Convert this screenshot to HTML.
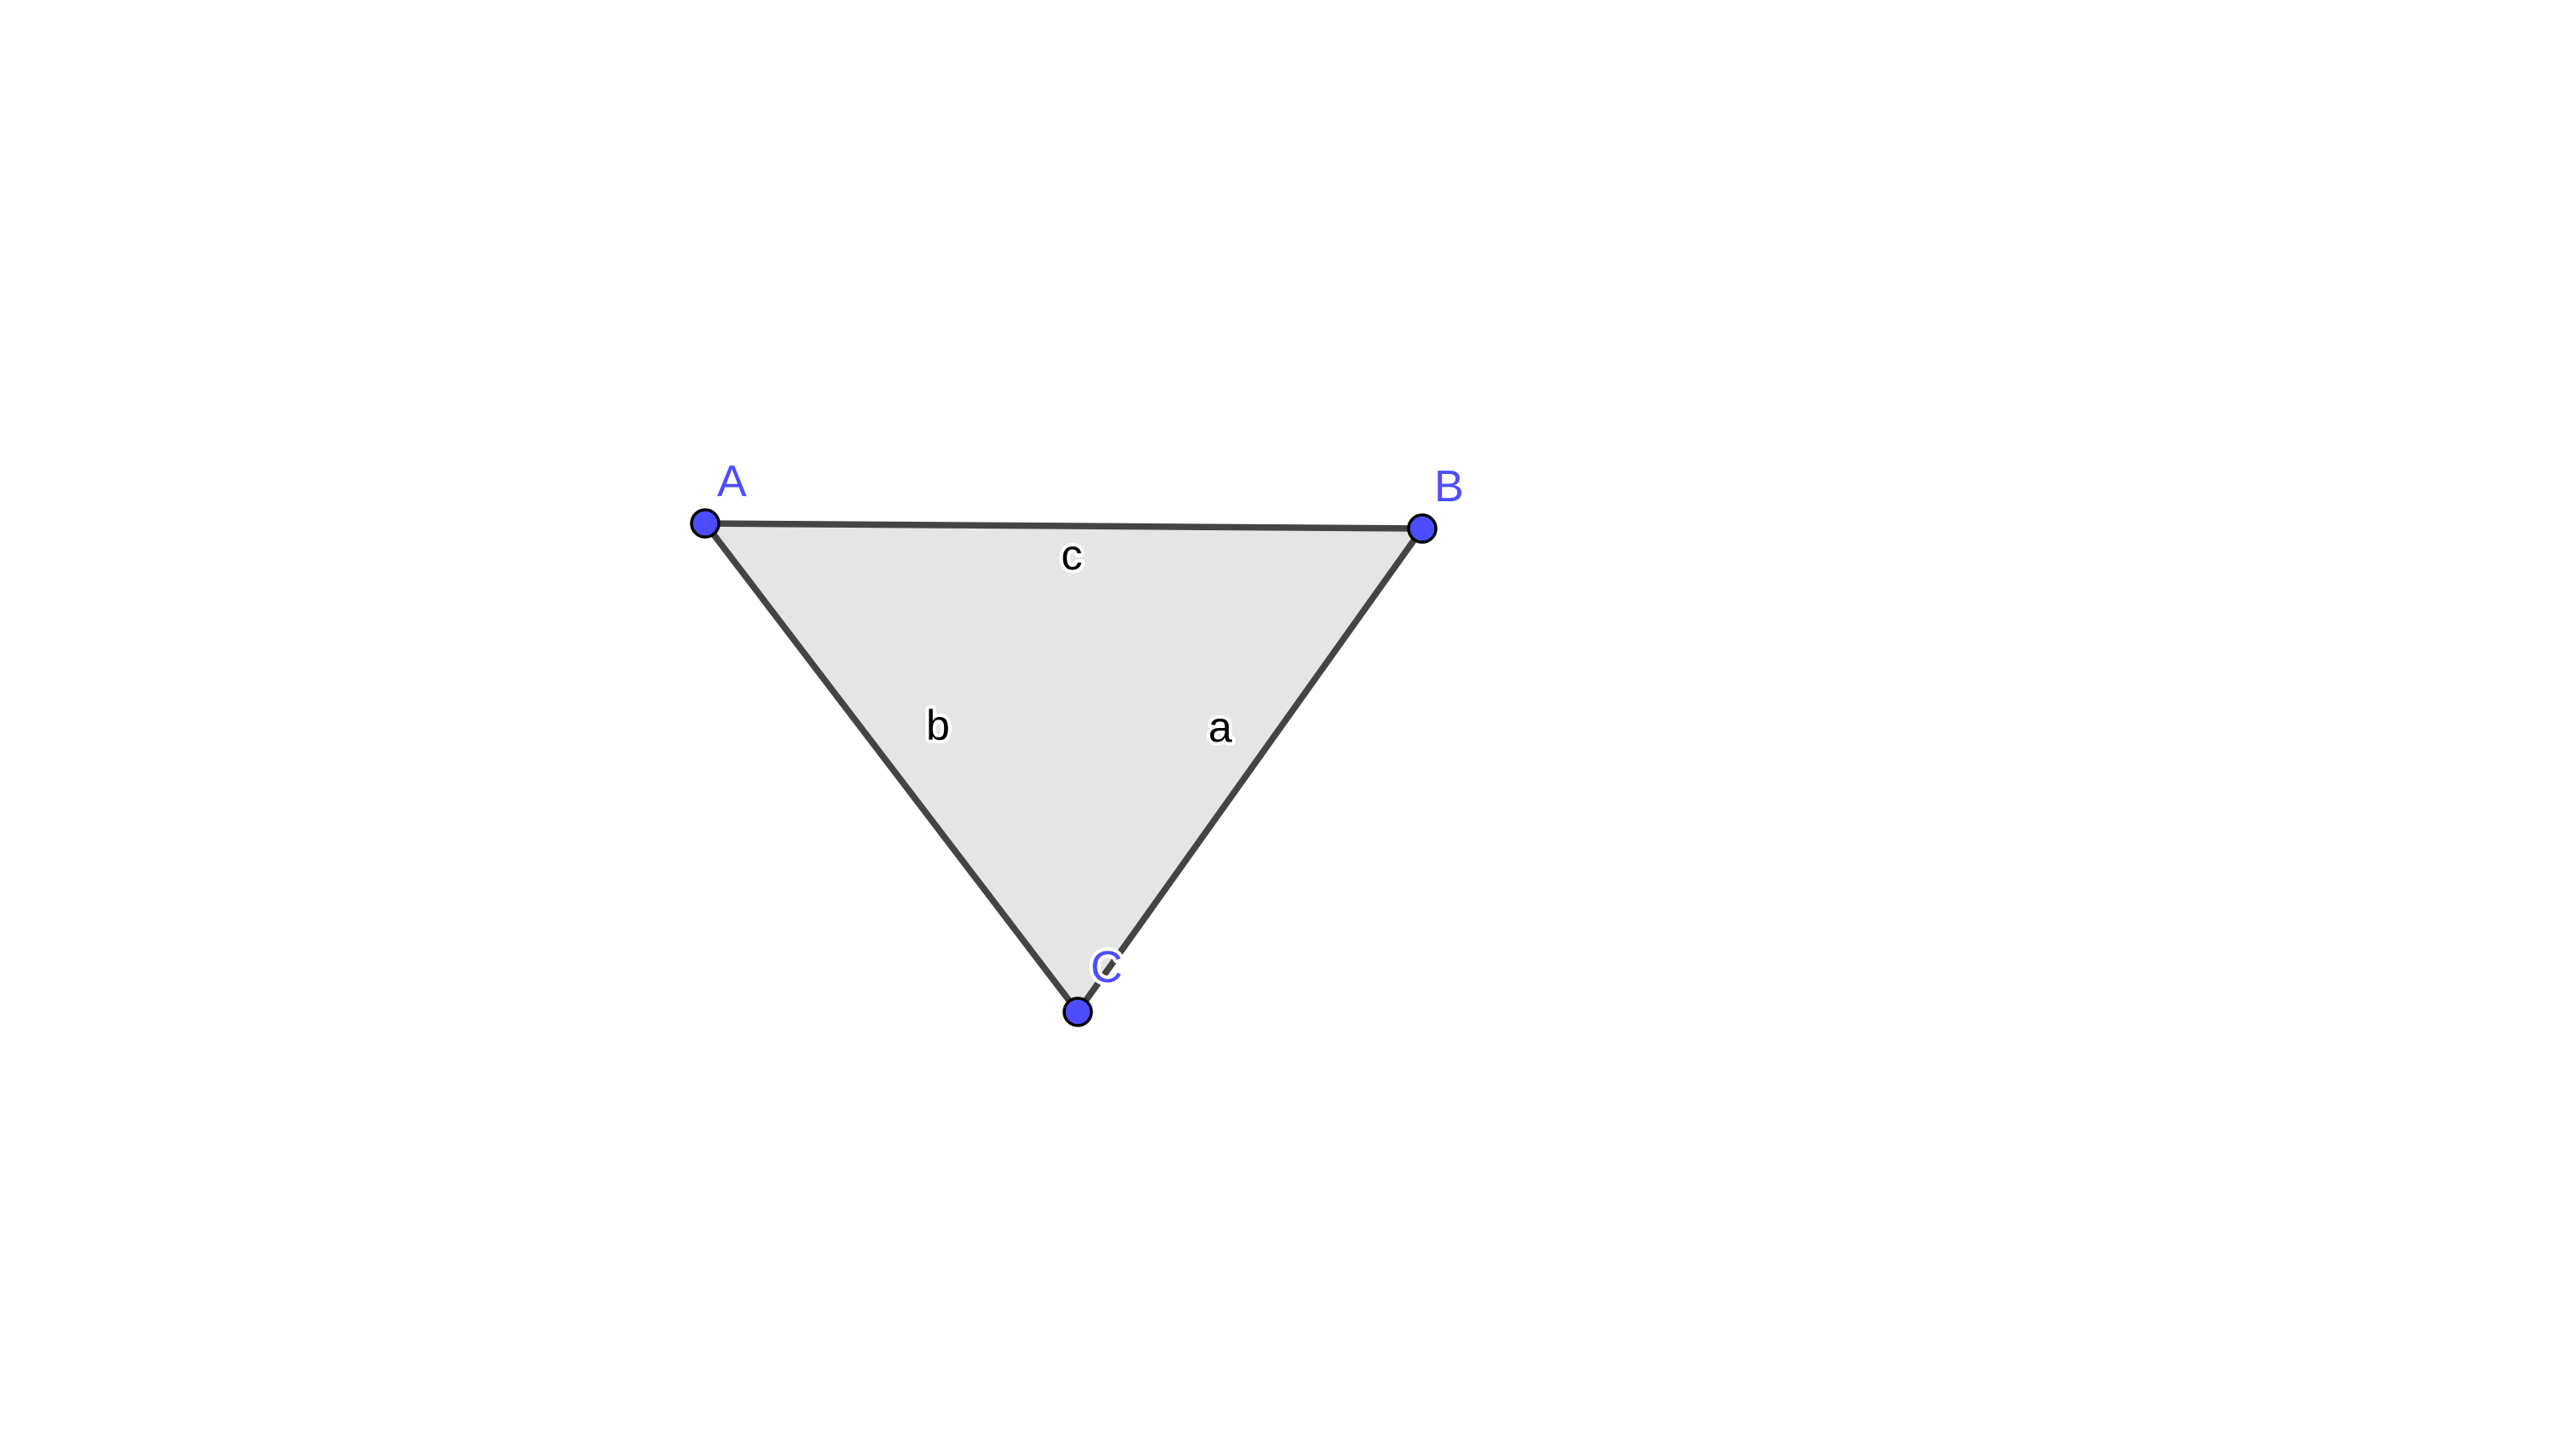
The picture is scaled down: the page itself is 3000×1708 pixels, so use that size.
<!DOCTYPE html>
<html><head><meta charset="utf-8"><style>
html,body{margin:0;padding:0;background:#fff;width:3000px;height:1708px;overflow:hidden}
text{font-family:"Liberation Sans",sans-serif}
</style></head><body>
<svg id="s" width="3000" height="1708" viewBox="0 0 3000 1708" xmlns="http://www.w3.org/2000/svg"></svg>
<script>
const pointNames=['A','B','C'];
const pointX=[827,1668,1264];
const pointY=[614,620,1187];
const ns='http://www.w3.org/2000/svg';
const s=document.getElementById('s');
function mk(t,a){const e=document.createElementNS(ns,t);for(const k in a)e.setAttribute(k,a[k]);s.appendChild(e);return e;}
const poly=mk('polygon',{points:pointX.map((x,i)=>x+','+pointY[i]).join(' '),fill:'#e5e5e5',stroke:'none'});


const sideNames=['c','a','b'];
const sidePairs=[[0,1],[1,2],[2,0]];
sidePairs.forEach((p,i)=>{
  const l=mk('line',{x1:pointX[p[0]],y1:pointY[p[0]],x2:pointX[p[1]],y2:pointY[p[1]],stroke:'#444',"stroke-width":7.5,"stroke-linecap":'round'});
  
  
});
const sideLabelPos=[[1257,668],[1431,870],[1100,868]];
sidePairs.forEach((p,i)=>{
  const t=mk('text',{x:sideLabelPos[i][0],y:sideLabelPos[i][1],"font-size":50,"text-anchor":'middle',fill:'#000',stroke:'#fff',"stroke-width":8,"paint-order":'stroke',"stroke-linejoin":'round'});
  t.textContent=sideNames[i];
  
  
});
const ptLabelOff=[[14,-32],[14,-32],[15,-35]];
pointNames.forEach((n,i)=>{
  const c=mk('circle',{cx:pointX[i],cy:pointY[i],r:16,fill:'#4d4dff',stroke:'#000',"stroke-width":3.5});
  
  
});
pointNames.forEach((n,i)=>{
  const t=mk('text',{x:pointX[i]+ptLabelOff[i][0],y:pointY[i]+ptLabelOff[i][1],"font-size":52,fill:'#4d4dff',stroke:'#fff',"stroke-width":8,"paint-order":'stroke',"stroke-linejoin":'round'});
  t.textContent=n;
  
  
});
</script>
</body></html>
